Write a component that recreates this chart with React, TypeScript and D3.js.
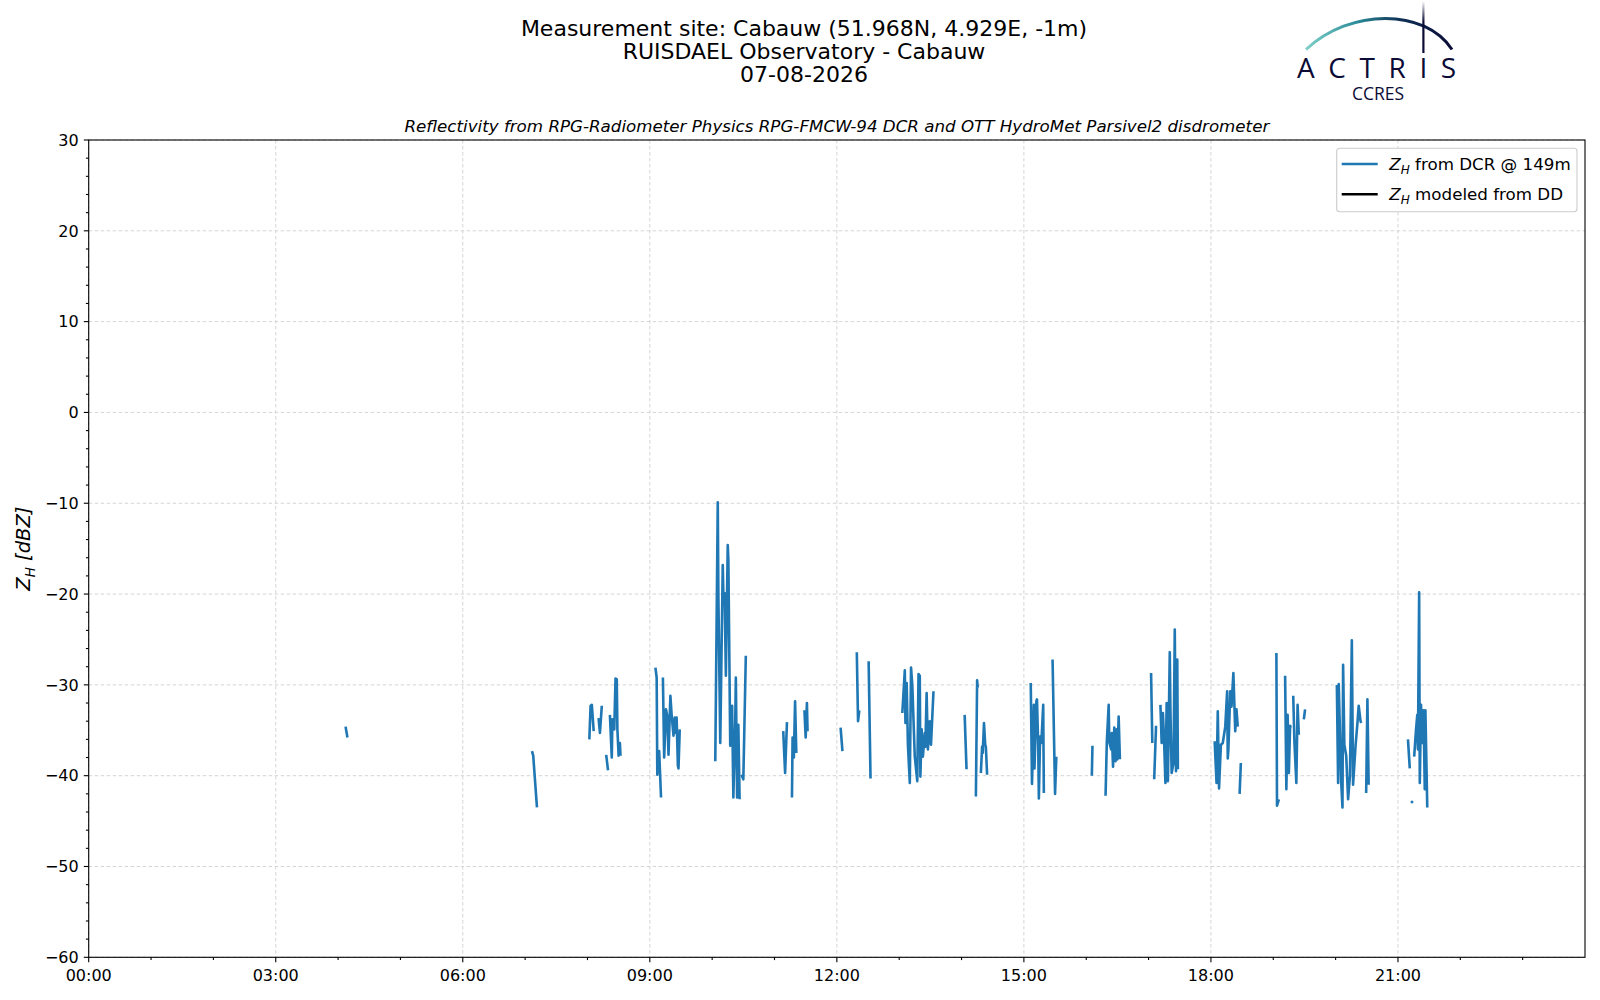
import React, { useEffect, useRef } from "react";
import * as d3 from "d3";

const titleLines = [
  "Measurement site: Cabauw (51.968N, 4.929E, -1m)",
  "RUISDAEL Observatory - Cabauw",
  "07-08-2026",
];
const subtitle =
  "Reflectivity from RPG-Radiometer Physics RPG-FMCW-94 DCR and OTT HydroMet Parsivel2 disdrometer";

const xTickHours = [0, 3, 6, 9, 12, 15, 18, 21];
const xTickLabels = ["00:00", "03:00", "06:00", "09:00", "12:00", "15:00", "18:00", "21:00"];
const yTicks = [-60, -50, -40, -30, -20, -10, 0, 10, 20, 30];

const legendLabels = [
  { sub: "H", rest: " from DCR @ 149m" },
  { sub: "H", rest: " modeled from DD" },
];
const seriesColors = ["#1f77b4", "#000000"];

// radar reflectivity at 149 m, [hour of day, dBZ]; each inner list is one unbroken run
const dcrSegments: [number, number][][] = [
  [[4.12, -34.6], [4.15, -35.8]],
  [[7.11, -37.3], [7.13, -37.8], [7.19, -43.5]],
  [[8.03, -36.0], [8.05, -32.3], [8.07, -32.2], [8.1, -35.1]],
  [[8.16, -33.8], [8.18, -33.8], [8.2, -35.3], [8.23, -32.3]],
  [[8.3, -37.7], [8.33, -39.4]],
  [[8.36, -33.3], [8.39, -38.0], [8.4, -33.8], [8.43, -34.9], [8.45, -29.3], [8.47, -29.4],
   [8.48, -34.9], [8.5, -37.8], [8.52, -36.4], [8.53, -37.8]],
  [[9.09, -28.1], [9.11, -29.2], [9.12, -39.9], [9.15, -37.3], [9.18, -42.4]],
  [[9.21, -29.2], [9.23, -38.0], [9.26, -32.7], [9.28, -33.4], [9.3, -37.7], [9.33, -31.2],
   [9.35, -33.3], [9.38, -35.6], [9.4, -33.6], [9.42, -35.3], [9.43, -33.6], [9.45, -38.9],
   [9.46, -39.2], [9.48, -34.9]],
  [[10.05, -38.4], [10.09, -9.9], [10.1, -20.3], [10.13, -36.4], [10.17, -16.8], [10.18, -20.1],
   [10.2, -19.9], [10.22, -29.0], [10.25, -14.6], [10.26, -16.2], [10.29, -36.7], [10.32, -32.3],
   [10.34, -42.4], [10.37, -34.2], [10.38, -29.2], [10.4, -42.4], [10.42, -34.4], [10.44, -42.6]],
  [[10.47, -39.9], [10.5, -40.4], [10.54, -26.8]],
  [[11.14, -35.1], [11.17, -39.7], [11.2, -34.1]],
  [[11.28, -42.4], [11.29, -35.8], [11.31, -38.0], [11.33, -31.8], [11.35, -37.5]],
  [[11.48, -32.8], [11.5, -35.8], [11.52, -32.0], [11.53, -35.1]],
  [[12.06, -34.7], [12.09, -37.3]],
  [[12.32, -26.4], [12.34, -34.0], [12.36, -32.8]],
  [[12.51, -27.4], [12.54, -40.3]],
  [[13.05, -33.1], [13.09, -28.4], [13.1, -34.2], [13.12, -29.8], [13.14, -36.6], [13.17, -40.8],
   [13.19, -28.1], [13.21, -30.0], [13.25, -37.9], [13.29, -40.6], [13.31, -28.8], [13.33, -29.0],
   [13.34, -40.1], [13.36, -34.9], [13.38, -37.9], [13.41, -35.3], [13.42, -36.8], [13.44, -30.9],
   [13.46, -37.1], [13.49, -34.0], [13.51, -36.6], [13.55, -30.7]],
  [[14.05, -33.3], [14.08, -39.3]],
  [[14.23, -42.3], [14.25, -29.5], [14.26, -30.3]],
  [[14.31, -39.7], [14.33, -36.8], [14.34, -37.5], [14.36, -34.2], [14.38, -36.6], [14.39, -36.8],
   [14.41, -39.9]],
  [[15.11, -29.8], [15.13, -40.9], [15.16, -32.2], [15.17, -39.2], [15.2, -31.8], [15.21, -31.6],
   [15.23, -36.8], [15.24, -42.5], [15.26, -35.7], [15.28, -36.4], [15.31, -32.2], [15.32, -41.9]],
  [[15.46, -27.2], [15.5, -42.0], [15.52, -37.9]],
  [[16.09, -40.0], [16.1, -36.7]],
  [[16.31, -42.2], [16.33, -36.3], [16.36, -32.2], [16.37, -36.3], [16.4, -37.1], [16.41, -35.3],
   [16.43, -39.0], [16.45, -34.7], [16.47, -38.4], [16.49, -34.9], [16.5, -38.2], [16.52, -33.5],
   [16.54, -38.2]],
  [[17.04, -28.7], [17.06, -36.4]],
  [[17.09, -40.4], [17.12, -34.5]],
  [[17.19, -32.2], [17.21, -36.4], [17.23, -33.1], [17.25, -36.4], [17.27, -40.8], [17.29, -32.0],
   [17.31, -40.6], [17.34, -26.4], [17.35, -32.7], [17.37, -39.7], [17.4, -38.6], [17.42, -23.9],
   [17.44, -39.5], [17.46, -27.2], [17.47, -39.3]],
  [[18.06, -36.2], [18.09, -40.8], [18.11, -32.9], [18.13, -41.4], [18.16, -36.6], [18.19, -36.4],
   [18.23, -34.6], [18.26, -30.7], [18.27, -38.1], [18.28, -37.1], [18.31, -30.7], [18.33, -32.4],
   [18.36, -28.7], [18.39, -35.1], [18.41, -32.7], [18.43, -34.6]],
  [[18.46, -42.0], [18.48, -38.6]],
  [[19.05, -26.5], [19.06, -43.3], [19.09, -42.6]],
  [[19.19, -29.0], [19.21, -41.5], [19.23, -33.3], [19.25, -39.7], [19.27, -34.5], [19.28, -34.7]],
  [[19.32, -31.2], [19.34, -36.4], [19.37, -40.8], [19.39, -32.2], [19.41, -35.5]],
  [[19.49, -33.8], [19.51, -32.7]],
  [[20.02, -30.0], [20.04, -40.8], [20.05, -29.9], [20.09, -40.8], [20.11, -43.5], [20.12, -27.8],
   [20.14, -36.6], [20.17, -37.8], [20.2, -42.6], [20.23, -40.0], [20.26, -25.1], [20.28, -41.0],
   [20.32, -36.7], [20.35, -34.2], [20.37, -32.3], [20.4, -34.0], [20.41, -34.2]],
  [[20.49, -41.9], [20.51, -31.6], [20.53, -41.0]],
  [[21.16, -36.0], [21.19, -39.2]],
  [[21.21, -42.8], [21.24, -43.0]],
  [[21.26, -37.9], [21.29, -34.9], [21.31, -33.3], [21.32, -37.1], [21.34, -19.8], [21.35, -40.8],
   [21.37, -32.2], [21.39, -36.4], [21.41, -32.8], [21.43, -41.5], [21.44, -32.8], [21.47, -43.5]],
];

// reflectivity modeled from the disdrometer drop size distribution: nothing recorded
const ddSegments: [number, number][][] = [];

const FONT = "DejaVu Sans, sans-serif";

export default function App() {
  const svgRef = useRef<SVGSVGElement | null>(null);
  const width = 1600;
  const height = 1000;

  useEffect(() => {
    if (!svgRef.current) return;
    const svg = d3.select(svgRef.current);
    svg.selectAll("*").remove();

    const plot = { left: 88.7, right: 1585, top: 140, bottom: 957.3 };
    const x = d3.scaleLinear().domain([0, 24]).range([plot.left, plot.right]);
    const y = d3.scaleLinear().domain([-60, 30]).range([plot.bottom, plot.top]);

    svg.append("rect").attr("width", width).attr("height", height).attr("fill", "#fff");

    // titles
    titleLines.forEach((t, i) => {
      svg
        .append("text")
        .attr("x", 804)
        .attr("y", 36 + i * 23)
        .attr("text-anchor", "middle")
        .style("font-family", FONT)
        .style("font-size", "22px")
        .text(t);
    });
    svg
      .append("text")
      .attr("x", (plot.left + plot.right) / 2)
      .attr("y", 132)
      .attr("text-anchor", "middle")
      .style("font-family", FONT)
      .style("font-size", "16.7px")
      .style("font-style", "italic")
      .text(subtitle);

    // logo
    const defs = svg.append("defs");
    const arcGrad = defs
      .append("linearGradient")
      .attr("id", "arcGrad")
      .attr("x1", "0%")
      .attr("x2", "100%");
    arcGrad.append("stop").attr("offset", "0%").attr("stop-color", "#7fd0c8");
    arcGrad.append("stop").attr("offset", "35%").attr("stop-color", "#2b8c98");
    arcGrad.append("stop").attr("offset", "65%").attr("stop-color", "#0f2f55");
    arcGrad.append("stop").attr("offset", "100%").attr("stop-color", "#0b0c36");
    const barGrad = defs
      .append("linearGradient")
      .attr("id", "barGrad")
      .attr("x1", "0%")
      .attr("x2", "0%")
      .attr("y1", "0%")
      .attr("y2", "100%");
    barGrad.append("stop").attr("offset", "0%").attr("stop-color", "#0b0c36").attr("stop-opacity", 0);
    barGrad.append("stop").attr("offset", "40%").attr("stop-color", "#0b0c36").attr("stop-opacity", 1);
    barGrad.append("stop").attr("offset", "100%").attr("stop-color", "#0b0c36").attr("stop-opacity", 1);

    const logo = svg.append("g");
    logo
      .append("path")
      .attr("d", "M1306,49.5 C1350,8 1425,8 1452,49.5")
      .attr("fill", "none")
      .attr("stroke", "url(#arcGrad)")
      .attr("stroke-width", 3);
    logo
      .append("rect")
      .attr("x", 1422.3)
      .attr("y", 1)
      .attr("width", 2.2)
      .attr("height", 52)
      .attr("fill", "url(#barGrad)");
    logo
      .append("text")
      .attr("x", 1297)
      .attr("y", 78)
      .attr("fill", "#0b0c36")
      .style("font-family", "Open Sans, sans-serif")
      .style("font-size", "28px")
      .style("letter-spacing", "13.6px")
      .text("ACTRIS");
    logo
      .append("text")
      .attr("x", 1378)
      .attr("y", 99.5)
      .attr("text-anchor", "middle")
      .attr("fill", "#0b0c36")
      .style("font-family", "Open Sans, sans-serif")
      .style("font-size", "17.5px")
      .text("CCRES");

    // grid
    const grid = svg.append("g").attr("stroke", "#d0d0d0").attr("stroke-width", 0.9).attr("stroke-dasharray", "3.5,2.5");
    xTickHours.forEach((h) => {
      grid.append("line").attr("x1", x(h)).attr("x2", x(h)).attr("y1", plot.top).attr("y2", plot.bottom);
    });
    yTicks.forEach((v) => {
      grid.append("line").attr("x1", plot.left).attr("x2", plot.right).attr("y1", y(v)).attr("y2", y(v));
    });

    // series
    const line = d3
      .line<[number, number]>()
      .x((d) => x(d[0]))
      .y((d) => y(d[1]));
    const clip = defs.append("clipPath").attr("id", "plotClip");
    clip
      .append("rect")
      .attr("x", plot.left)
      .attr("y", plot.top)
      .attr("width", plot.right - plot.left)
      .attr("height", plot.bottom - plot.top);
    const series = svg.append("g").attr("clip-path", "url(#plotClip)");
    [dcrSegments, ddSegments].forEach((segs, si) => {
      series
        .selectAll(`.s${si}`)
        .data(segs)
        .enter()
        .append("path")
        .attr("class", `s${si}`)
        .attr("d", (d) => line(d) || "")
        .attr("fill", "none")
        .attr("stroke", seriesColors[si])
        .attr("stroke-width", 2.6)
        .attr("stroke-linejoin", "round");
    });

    // frame
    svg
      .append("rect")
      .attr("x", plot.left)
      .attr("y", plot.top)
      .attr("width", plot.right - plot.left)
      .attr("height", plot.bottom - plot.top)
      .attr("fill", "none")
      .attr("stroke", "#000")
      .attr("stroke-width", 1.1);

    // x ticks
    const xt = svg.append("g").attr("stroke", "#000").attr("stroke-width", 1.1);
    d3.range(0, 24).forEach((h) => {
      const major = xTickHours.includes(h);
      xt.append("line")
        .attr("x1", x(h))
        .attr("x2", x(h))
        .attr("y1", plot.bottom)
        .attr("y2", plot.bottom + (major ? 4.9 : 2.8));
    });
    xTickHours.forEach((h, i) => {
      svg
        .append("text")
        .attr("x", x(h))
        .attr("y", plot.bottom + 24)
        .attr("text-anchor", "middle")
        .style("font-family", FONT)
        .style("font-size", "16px")
        .text(xTickLabels[i]);
    });

    // y ticks
    const yt = svg.append("g").attr("stroke", "#000").attr("stroke-width", 1.1);
    d3.range(-60, 31, 2).forEach((v) => {
      const major = v % 10 === 0;
      yt.append("line")
        .attr("x1", plot.left)
        .attr("x2", plot.left - (major ? 4.9 : 2.8))
        .attr("y1", y(v))
        .attr("y2", y(v));
    });
    yTicks.forEach((v) => {
      svg
        .append("text")
        .attr("x", plot.left - 10)
        .attr("y", y(v))
        .attr("dy", "0.36em")
        .attr("text-anchor", "end")
        .style("font-family", FONT)
        .style("font-size", "16px")
        .text(d3.format("")(v).replace("-", "\u2212"));
    });

    // y label
    const yl = svg
      .append("text")
      .attr("transform", `translate(30, ${(plot.top + plot.bottom) / 2}) rotate(-90)`)
      .attr("text-anchor", "middle")
      .style("font-family", FONT)
      .style("font-size", "19.5px")
      .style("font-style", "italic");
    yl.append("tspan").text("Z");
    yl.append("tspan").attr("dy", 4.5).style("font-size", "13.5px").text("H");
    yl.append("tspan").attr("dy", -4.5).text(" [dBZ]");

    // legend
    const lg = svg.append("g");
    lg.append("rect")
      .attr("x", 1336.7)
      .attr("y", 148.3)
      .attr("width", 1577 - 1336.7)
      .attr("height", 211.7 - 148.3)
      .attr("rx", 3)
      .attr("fill", "#fff")
      .attr("fill-opacity", 0.8)
      .attr("stroke", "#cccccc")
      .attr("stroke-width", 1.1);
    legendLabels.forEach((l, i) => {
      const cy = 164 + i * 30.3;
      lg.append("line")
        .attr("x1", 1341.7)
        .attr("x2", 1377.7)
        .attr("y1", cy)
        .attr("y2", cy)
        .attr("stroke", seriesColors[i])
        .attr("stroke-width", 2.6);
      const t = lg
        .append("text")
        .attr("x", 1389.3)
        .attr("y", cy + 6)
        .style("font-family", FONT)
        .style("font-size", "16.7px");
      t.append("tspan").style("font-style", "italic").text("Z");
      t.append("tspan").attr("dy", 3.8).style("font-style", "italic").style("font-size", "12px").text(l.sub);
      t.append("tspan").attr("dy", -3.8).text(l.rest);
    });
  }, []);

  return (
    <svg
      ref={svgRef}
      width={width}
      height={height}
      style={{ position: "absolute", left: 0, top: 0, display: "block" }}
    />
  );
}
